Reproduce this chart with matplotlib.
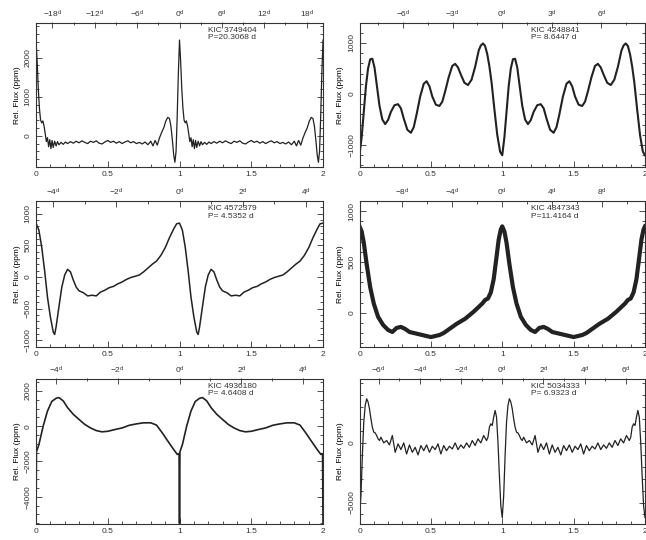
import numpy as np
import matplotlib
matplotlib.use('Agg')
import matplotlib.pyplot as plt
from matplotlib.ticker import MultipleLocator, AutoMinorLocator

plt.rcParams['font.family'] = ['Liberation Sans', 'DejaVu Sans']
plt.rcParams['mathtext.default'] = 'regular'
plt.rcParams['mathtext.fontset'] = 'custom'
plt.rcParams['mathtext.rm'] = 'Liberation Sans'

# ---------------- data ----------------
names = ['KIC 3749404', 'KIC 4248841', 'KIC 4572379',
         'KIC 4847343', 'KIC 4936180', 'KIC 5034333']
periods = [20.3068, 8.6447, 4.5352, 11.4164, 4.6408, 6.9323]
period_text = ['P=20.3068 d', 'P= 8.6447 d', 'P= 4.5352 d',
               'P=11.4164 d', 'P= 4.6408 d', 'P= 6.9323 d']

day_ticks = [[-18, -12, -6, 0, 6, 12, 18],
             [-6, -3, 0, 3, 6],
             [-4, -2, 0, 2, 4],
             [-8, -4, 0, 4, 8],
             [-4, -2, 0, 2, 4],
             [-6, -4, -2, 0, 2, 4, 6]]
flux_ticks = [[0, 1000, 2000],
              [-1000, 0, 1000],
              [-1000, -500, 0, 500, 1000],
              [0, 500, 1000],
              [-4000, -2000, 0, 2000],
              [-5000, 0]]
phase_ticks = [0, 0.5, 1, 1.5, 2]
phase_tick_labels = ['0', '0.5', '1', '1.5', '2']

# one orbital cycle per star (phase, relative flux in ppm)
ph1 = [0.000, 0.008, 0.016, 0.024, 0.032, 0.040, 0.048, 0.056, 0.064, 0.072,
       0.080, 0.088, 0.096, 0.104, 0.112, 0.120, 0.130, 0.140, 0.150, 0.160,
       0.175, 0.190, 0.205, 0.220, 0.240, 0.260, 0.280, 0.300, 0.320, 0.340,
       0.360, 0.380, 0.400, 0.420, 0.440, 0.460, 0.480, 0.500, 0.520, 0.540,
       0.560, 0.580, 0.600, 0.620, 0.640, 0.660, 0.680, 0.700, 0.720, 0.740,
       0.760, 0.780, 0.800, 0.815, 0.830, 0.845, 0.860, 0.875, 0.890, 0.905,
       0.918, 0.930, 0.940, 0.950, 0.960, 0.968, 0.976, 0.984, 0.992]
f1 = [2450, 1900, 1200, 700, 400, 330, 380, 250, 60, -150,
      -50, -280, -100, -330, -120, -300, -140, -260, -150, -230,
      -170, -220, -160, -200, -150, -190, -140, -180, -130, -170,
      -200, -140, -170, -130, -190, -210, -160, -120, -170, -140,
      -190, -150, -200, -160, -130, -180, -150, -200, -170, -210,
      -160, -230, -140, -260, -120, -240, -60, 80, 200, 380,
      470, 440, 250, -100, -500, -680, -400, 500, 1600]

ph2 = [0.00, 0.015, 0.03, 0.045, 0.06, 0.075, 0.09, 0.105, 0.12, 0.14,
       0.16, 0.18, 0.20, 0.22, 0.245, 0.27, 0.29, 0.31, 0.335, 0.36,
       0.38, 0.40, 0.425, 0.45, 0.47, 0.49, 0.51, 0.535, 0.56, 0.58,
       0.60, 0.625, 0.65, 0.67, 0.69, 0.71, 0.735, 0.76, 0.785, 0.81,
       0.835, 0.85, 0.865, 0.88, 0.895, 0.91, 0.925, 0.945, 0.965, 0.985]
f2 = [-1200, -850, -350, 150, 500, 680, 690, 520, 200, -230,
      -500, -590, -510, -350, -220, -200, -280, -480, -700, -760,
      -650, -400, -50, 200, 250, 150, -50, -210, -235, -150,
      50, 330, 550, 590, 520, 380, 220, 175, 280, 530,
      850, 950, 990, 940, 780, 540, 230, -300, -800, -1130]

ph3 = [0.00, 0.02, 0.04, 0.06, 0.08, 0.10, 0.12, 0.13, 0.14, 0.16,
       0.18, 0.20, 0.22, 0.24, 0.26, 0.28, 0.30, 0.33, 0.36, 0.39,
       0.42, 0.45, 0.48, 0.51, 0.54, 0.57, 0.60, 0.63, 0.66, 0.69,
       0.72, 0.75, 0.78, 0.81, 0.84, 0.87, 0.90, 0.93, 0.96, 0.98]
f3 = [850, 740, 470, 100, -320, -630, -870, -910, -790, -470,
      -160, 30, 120, 80, -50, -160, -220, -250, -300, -290,
      -300, -240, -210, -170, -150, -110, -80, -40, -10, 10,
      30, 80, 140, 200, 250, 340, 460, 620, 760, 840]

ph4 = [0.00, 0.015, 0.03, 0.05, 0.075, 0.10, 0.13, 0.165, 0.20, 0.23,
       0.26, 0.29, 0.32, 0.35, 0.38, 0.41, 0.44, 0.47, 0.50, 0.53,
       0.56, 0.59, 0.62, 0.65, 0.68, 0.71, 0.74, 0.77, 0.80, 0.83,
       0.86, 0.88, 0.90, 0.92, 0.94, 0.96, 0.975, 0.99]
f4 = [850, 800, 690, 480, 250, 90, -40, -120, -170, -190,
      -150, -140, -160, -190, -200, -210, -220, -230, -240, -230,
      -220, -200, -170, -140, -110, -85, -60, -25, 10, 50,
      90, 125, 140, 200, 330, 550, 720, 820]

ph5 = [0.000, 0.003, 0.02, 0.05, 0.08, 0.11, 0.14, 0.16, 0.19, 0.22,
       0.26, 0.30, 0.34, 0.38, 0.42, 0.46, 0.50, 0.55, 0.60, 0.65,
       0.70, 0.75, 0.80, 0.84, 0.88, 0.92, 0.96, 0.985, 0.997]
f5 = [-5500, -1450, -1050, 0, 860, 1400, 1580, 1620, 1430, 1050,
      670, 380, 100, -100, -250, -320, -290, -190, -100, 50,
      130, 190, 190, 60, -380, -860, -1330, -1600, -1550]

ph6 = [0.00, 0.01, 0.02, 0.03, 0.04, 0.05, 0.06, 0.07, 0.08, 0.09,
       0.10, 0.11, 0.12, 0.13, 0.14, 0.15, 0.17, 0.19, 0.21, 0.23,
       0.25, 0.27, 0.29, 0.31, 0.33, 0.35, 0.37, 0.39, 0.41, 0.43,
       0.45, 0.47, 0.49, 0.51, 0.53, 0.55, 0.57, 0.59, 0.61, 0.63,
       0.65, 0.67, 0.69, 0.71, 0.73, 0.75, 0.77, 0.79, 0.81, 0.83,
       0.85, 0.87, 0.89, 0.90, 0.91, 0.92, 0.93, 0.94, 0.95, 0.96,
       0.97, 0.98, 0.99]
f6 = [-6260, -4440, -1070, 1740, 3150, 3700, 3430, 2860, 2020, 1320,
      900, 840, 620, 340, 200, 480, 0, 200, -170, 620,
      -790, -80, -560, 0, -930, -170, -790, -370, -1010, -220,
      -650, -170, -790, -280, -560, -80, -930, -220, -650, -280,
      -510, 0, -560, -170, -450, 0, -370, 200, -220, 340,
      0, 620, 200, 480, 1320, 1600, 1460, 2160, 2720, 2160,
      56, -2750, -5280]

phases = [ph1, ph2, ph3, ph4, ph5, ph6]
fluxes = [f1, f2, f3, f4, f5, f6]

# ---------------- layout / style ----------------
W, H = 646, 540
ylims = [(-800, 2900), (-1430, 1400), (-1100, 1200),
         (-333, 1100), (-5540, 2700), (-6800, 5400)]
minor_y = [200, 200, 100, 100, 500, 1000]
lws = [0.9, 1.5, 1.1, 3.0, 1.2, 0.9]
col_x = [(36, 323), (359.5, 645)]
row_y = [(22.5, 167), (201, 346.5), (378.5, 524)]
LC = '#222222'
FS = 6

fig = plt.figure(figsize=(W / 100, H / 100), dpi=100)

for i in range(6):
    r, c = divmod(i, 2)
    x0, x1 = col_x[c]
    yt, yb = row_y[r]
    ax = fig.add_axes([x0 / W, 1 - yb / H, (x1 - x0) / W, (yb - yt) / H])
    ph = np.asarray(phases[i], dtype=float)
    fl = np.asarray(fluxes[i], dtype=float)
    x = np.concatenate([ph, ph + 1, ph[:1] + 2])
    y = np.concatenate([fl, fl, fl[:1]])
    ax.plot(x, y, color=LC, lw=lws[i], solid_joinstyle='round')
    ax.set_xlim(0, 2)
    ax.set_ylim(*ylims[i])

    for s in ax.spines.values():
        s.set_linewidth(0.8)
        s.set_color('#333333')

    ax.set_xticks(phase_ticks)
    ax.set_xticklabels(phase_tick_labels)
    ax.xaxis.set_minor_locator(MultipleLocator(0.1))
    ax.set_yticks(flux_ticks[i])
    ax.set_yticklabels([str(v).replace('-', '\u2212') for v in flux_ticks[i]],
                       rotation=90, va='center')
    ax.yaxis.set_minor_locator(MultipleLocator(minor_y[i]))
    ax.tick_params(axis='both', which='both', direction='in',
                   top=False, right=True, labelsize=FS, width=0.6,
                   colors='#333333')
    ax.tick_params(axis='both', which='major', length=4)
    ax.tick_params(axis='both', which='minor', length=2)
    ax.tick_params(axis='x', pad=3)
    ax.tick_params(axis='y', pad=3)
    ax.set_ylabel('Rel. Flux (ppm)', fontsize=FS, labelpad=3)

    P = periods[i]
    sec = ax.secondary_xaxis('top', functions=(lambda p, P=P: (p - 1) * P,
                                               lambda d, P=P: d / P + 1))
    sec.set_xticks(day_ticks[i])
    sec.set_xticklabels([r'$%d^{d}$' % d for d in day_ticks[i]])
    sec.xaxis.set_minor_locator(AutoMinorLocator(2))
    sec.tick_params(axis='x', which='both', direction='in', labelsize=FS,
                    width=0.6, colors='#333333', pad=2)
    sec.tick_params(axis='x', which='major', length=4)
    sec.tick_params(axis='x', which='minor', length=2)
    sec.spines['top'].set_visible(False)

    ax.text(0.60, 0.97, names[i] + '\n' + period_text[i],
            transform=ax.transAxes, ha='left', va='top', fontsize=FS,
            color='#333333', linespacing=1.1)

fig.savefig('out.png', dpi=100)
